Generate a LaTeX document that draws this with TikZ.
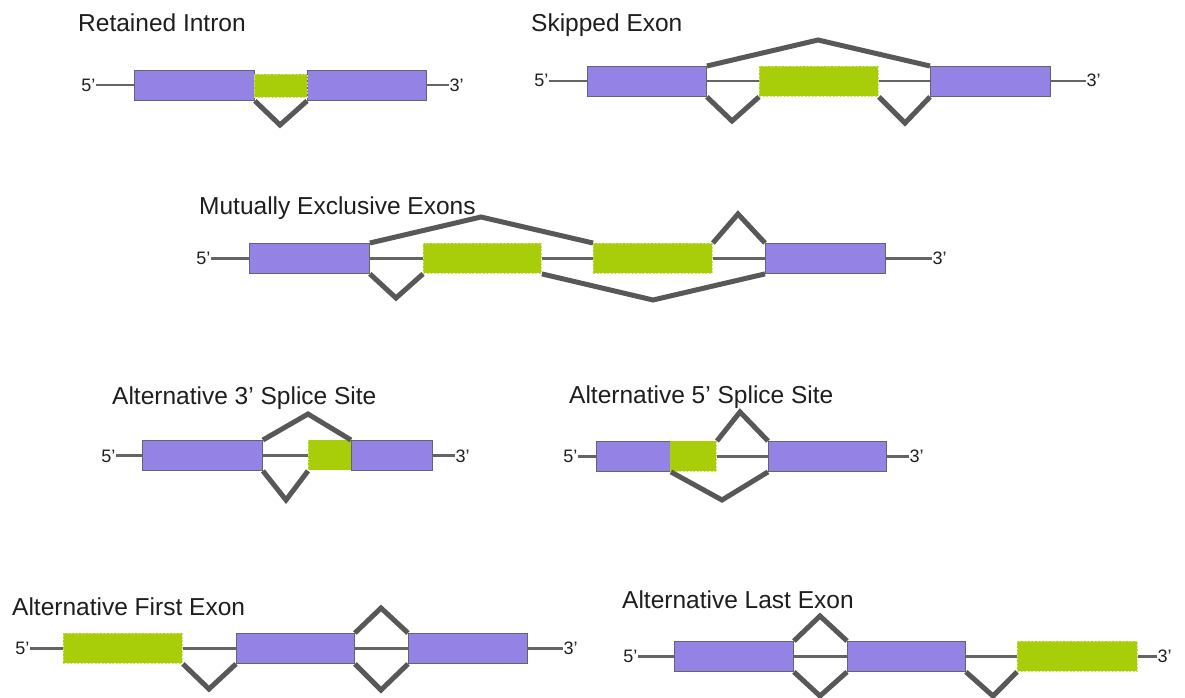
\documentclass[tikz,border=0pt]{standalone}
\usepackage{fontspec}
\setmainfont{Liberation Sans}
\definecolor{exonpurple}{RGB}{148,131,228}
\definecolor{exongreen}{RGB}{168,206,10}
\definecolor{greenedge}{RGB}{205,228,110}
\definecolor{splicegray}{RGB}{88,88,88}
\definecolor{introngray}{RGB}{100,100,100}
\definecolor{boxedge}{RGB}{100,100,110}
\definecolor{titlecol}{RGB}{30,30,30}
\tikzset{
  pex/.style={draw=boxedge, line width=0.9pt, fill=exonpurple, anchor=north west, inner sep=0pt, minimum height=30pt},
  gex/.style={draw=greenedge, line width=0.9pt, dash pattern=on 2pt off 1.5pt, fill=exongreen, anchor=north west, inner sep=0pt, minimum height=30pt},
  splice/.style={draw=splicegray, line width=5pt, line join=miter},
  intron/.style={draw=introngray, line width=2.1pt},
  ttl/.style={anchor=base west, inner sep=0pt, text=titlecol, font=\fontsize{24.5}{28}\selectfont},
  endl/.style={inner sep=0.5pt, text=titlecol, font=\fontsize{18}{20}\selectfont},
}
\begin{document}
\begin{tikzpicture}[x=1pt,y=-1pt]
\useasboundingbox (0,0) rectangle (1185,698);
\fill[white] (0,0) rectangle (1185,698);

% ---------- Retained Intron ----------
\node[ttl] (t1) at (78,32) {Retained Intron};
\node[pex, minimum width=120pt] (a1) at (134,70) {};
\node[pex, minimum width=119pt] (a3) at (307,70) {};
\node[endl, anchor=east] (a5) at (96,85) {5’};
\node[endl, anchor=west] (a3p) at (449,85) {3’};
\draw[intron] (a1.west) -- (a1.west -| a5.east);
\draw[intron] (a3.east) -- (a3.east -| a3p.west);
\node[gex, minimum width=53pt, minimum height=23pt] (a2) at (254,74) {};
\coordinate (av) at (280,125);
\draw[splice] (a1.south east) -- (av) -- (a3.south west);

% ---------- Skipped Exon ----------
\node[ttl] (t2) at (531,32) {Skipped Exon};
\node[endl, anchor=east] (b5) at (549,80) {5’};
\node[endl, anchor=west] (b3p) at (1086,80) {3’};
\node[pex, minimum width=119pt] (b1) at (587,66) {};
\node[gex, minimum width=119pt] (b2) at (759,66) {};
\node[pex, minimum width=120pt] (b3) at (930,66) {};
\draw[intron] (b1.west) -- (b1.west -| b5.east);
\draw[intron] (b1.east) -- (b2.west);
\draw[intron] (b2.east) -- (b3.west);
\draw[intron] (b3.east) -- (b3.east -| b3p.west);
\coordinate (bu) at (818,40);
\coordinate (bl1) at (732,121);
\coordinate (bl2) at (905,123);
\draw[splice] (b1.north east) -- (bu) -- (b3.north west);
\draw[splice] (b1.south east) -- (bl1) -- (b2.south west);
\draw[splice] (b2.south east) -- (bl2) -- (b3.south west);

% ---------- Mutually Exclusive Exons ----------
\node[ttl] (t3) at (199,214) {Mutually Exclusive Exons};
\node[endl, anchor=east] (c5) at (211,258) {5’};
\node[endl, anchor=west] (c3p) at (932,258) {3’};
\node[pex, minimum width=120pt] (c1) at (249,243) {};
\node[gex, minimum width=118pt] (c2) at (423,243) {};
\node[gex, minimum width=119pt] (c3) at (593,243) {};
\node[pex, minimum width=120pt] (c4) at (765,243) {};
\draw[intron] (c1.west) -- (c1.west -| c5.east);
\draw[intron] (c1.east) -- (c2.west);
\draw[intron] (c2.east) -- (c3.west);
\draw[intron] (c3.east) -- (c4.west);
\draw[intron] (c4.east) -- (c4.east -| c3p.west);
\coordinate (cu1) at (481,217);
\coordinate (cu2) at (738,214);
\coordinate (cl1) at (396,298);
\coordinate (cl2) at (653,300);
\draw[splice] (c1.north east) -- (cu1) -- (c3.north west);
\draw[splice] (c3.north east) -- (cu2) -- (c4.north west);
\draw[splice] (c1.south east) -- (cl1) -- (c2.south west);
\draw[splice] (c2.south east) -- (cl2) -- (c4.south west);

% ---------- Alternative 3' Splice Site ----------
\node[ttl] (t4) at (112,404) {Alternative 3’ Splice Site};
\node[endl, anchor=east] (d5) at (116,456) {5’};
\node[endl, anchor=west] (d3p) at (455,456) {3’};
\node[pex, minimum width=120pt] (d1) at (142,440) {};
\node[pex, minimum width=81pt] (d3) at (351,440) {};
\node[gex, minimum width=43pt, draw=none] (d2) at (308,440) {};
\draw[greenedge, line width=0.9pt, dash pattern=on 2pt off 1.5pt] (d2.north west) -- (d2.south west);
\draw[intron] (d1.west) -- (d1.west -| d5.east);
\draw[intron] (d1.east) -- (d2.west);
\draw[intron] (d3.east) -- (d3.east -| d3p.west);
\coordinate (du) at (308,414);
\coordinate (dl) at (286,500);
\draw[splice] (d1.north east) -- (du) -- (d3.north west);
\draw[splice] (d1.south east) -- (dl) -- (d2.south west);

% ---------- Alternative 5' Splice Site ----------
\node[ttl] (t5) at (569,403) {Alternative 5’ Splice Site};
\node[endl, anchor=east] (e5) at (578,456) {5’};
\node[endl, anchor=west] (e3p) at (909,456) {3’};
\node[pex, minimum width=74pt] (e1) at (596,441) {};
\node[gex, minimum width=46pt, draw=none] (e2) at (670,441) {};
\draw[greenedge, line width=0.9pt, dash pattern=on 2pt off 1.5pt] (e2.north east) -- (e2.south east) -- (e2.south west);
\node[pex, minimum width=118pt] (e3) at (768,441) {};
\draw[intron] (e1.west) -- (e1.west -| e5.east);
\draw[intron] (e2.east) -- (e3.west);
\draw[intron] (e3.east) -- (e3.east -| e3p.west);
\coordinate (eu) at (740,412);
\coordinate (el) at (722,500);
\draw[splice] (e2.north east) -- (eu) -- (e3.north west);
\draw[splice] (e1.south east) -- (el) -- (e3.south west);

% ---------- Alternative First Exon ----------
\node[ttl] (t6) at (12,615) {Alternative First Exon};
\node[endl, anchor=east] (f5) at (30,648) {5’};
\node[endl, anchor=west] (f3p) at (563,648) {3’};
\node[gex, minimum width=119pt] (f1) at (63,633) {};
\node[pex, minimum width=118pt] (f2) at (236,633) {};
\node[pex, minimum width=119pt] (f3) at (408,633) {};
\draw[intron] (f1.west) -- (f1.west -| f5.east);
\draw[intron] (f1.east) -- (f2.west);
\draw[intron] (f2.east) -- (f3.west);
\draw[intron] (f3.east) -- (f3.east -| f3p.west);
\coordinate (fu) at (381,608);
\coordinate (fl1) at (209,689);
\coordinate (fl2) at (381,690);
\draw[splice] (f2.north east) -- (fu) -- (f3.north west);
\draw[splice] (f1.south east) -- (fl1) -- (f2.south west);
\draw[splice] (f2.south east) -- (fl2) -- (f3.south west);

% ---------- Alternative Last Exon ----------
\node[ttl] (t7) at (622,608) {Alternative Last Exon};
\node[endl, anchor=east] (h5) at (638,656) {5’};
\node[endl, anchor=west] (h3p) at (1157,656) {3’};
\node[pex, minimum width=119pt] (h1) at (674,641) {};
\node[pex, minimum width=118pt] (h2) at (847,641) {};
\node[gex, minimum width=120pt] (h3) at (1017,641) {};
\draw[intron] (h1.west) -- (h1.west -| h5.east);
\draw[intron] (h1.east) -- (h2.west);
\draw[intron] (h2.east) -- (h3.west);
\draw[intron] (h3.east) -- (h3.east -| h3p.west);
\coordinate (hu) at (820,616);
\coordinate (hl1) at (820,696);
\coordinate (hl2) at (993,696);
\draw[splice] (h1.north east) -- (hu) -- (h2.north west);
\draw[splice] (h1.south east) -- (hl1) -- (h2.south west);
\draw[splice] (h2.south east) -- (hl2) -- (h3.south west);
\end{tikzpicture}
\end{document}
